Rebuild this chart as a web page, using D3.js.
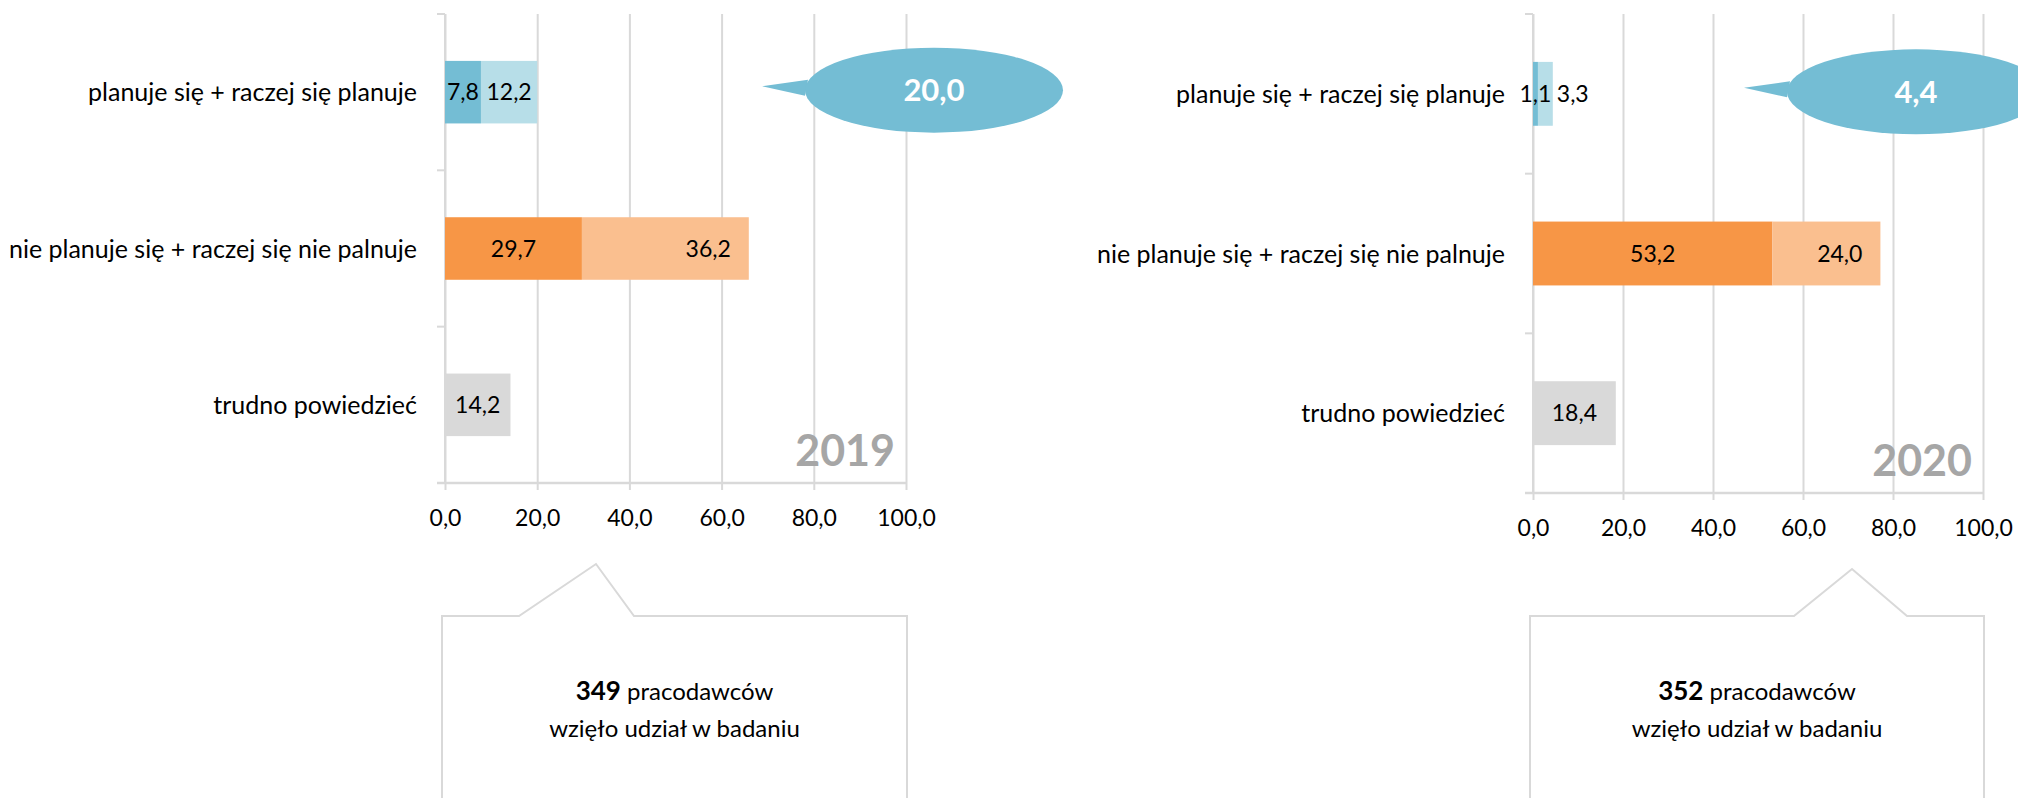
<!DOCTYPE html>
<html>
<head>
<meta charset="utf-8">
<script src="https://cdn.jsdelivr.net/npm/d3@7"></script>
<style>
  html, body { margin: 0; padding: 0; background: #fff; }
  svg { display: block; font-family: Lato, "Noto Sans", sans-serif; }
</style>
</head>
<body>
<svg id="chart" width="2018" height="798"></svg>
<script>
// dane z wykresu
const categories = ["planuje się + raczej się planuje", "nie planuje się + raczej się nie palnuje", "trudno powiedzieć"];
const years = ["2019", "2020"];
const xTicks = [0, 20, 40, 60, 80, 100];

// pierwsza część słupka (zdecydowanie) i druga (raczej)
const firstPart2019 = [7.8, 29.7, 14.2];
const secondPart2019 = [12.2, 36.2, null];
const firstPart2020 = [1.1, 53.2, 18.4];
const secondPart2020 = [3.3, 24.0, null];

const planned = [20.0, 4.4];          // suma "planuje" w dymku
const respondents = [349, 352];      // liczba pracodawców

const darkColors = ["#74bdd4", "#f79646", "#d9d9d9"];
const lightColors = ["#b7dee8", "#fabf8f", "#d9d9d9"];
const gridColor = "#d9d9d9";
const bubbleColor = "#74bdd4";

const fmt = v => d3.format(".1f")(v).replace(".", ",");
const fontSize = 23;     // wartości i oś X
const catFontSize = 25;  // nazwy kategorii

const svg = d3.select("#chart");

// układ obu paneli (pozycje w pikselach)
const panels = [
  { year: years[0], first: firstPart2019, second: secondPart2019, planned: planned[0], resp: respondents[0],
    x0: 445, x1: 906, top: 14, bottom: 483, bubbleDx: 489, pointer: [74, 151, 189], peakY: 564 },
  { year: years[1], first: firstPart2020, second: secondPart2020, planned: planned[1], resp: respondents[1],
    x0: 1533, x1: 1983, top: 14, bottom: 493, bubbleDx: 383, pointer: [261, 319, 374], peakY: 569 }
];

panels.forEach(drawPanel);

function drawPanel(p) {
  const x = d3.scaleLinear().domain([0, 100]).range([p.x0, p.x1]);
  const y = d3.scaleBand().domain(categories).range([p.top, p.bottom]).paddingInner(0.6).paddingOuter(0.3);
  const g = svg.append("g");

  // linie siatki
  g.append("g")
    .attr("transform", `translate(0,${p.bottom})`)
    .call(d3.axisBottom(x).tickValues(xTicks).tickSize(-(p.bottom - p.top)).tickFormat(""))
    .call(s => s.select(".domain").remove())
    .selectAll("line").attr("stroke", gridColor).attr("stroke-width", 2);

  // oś X z podpisami
  const xAxis = g.append("g")
    .attr("transform", `translate(0,${p.bottom})`)
    .call(d3.axisBottom(x).tickValues(xTicks).tickSize(7).tickPadding(20).tickFormat(fmt));
  xAxis.select(".domain").remove();
  xAxis.selectAll("line").attr("stroke", gridColor).attr("stroke-width", 2);
  xAxis.selectAll("text").attr("font-size", fontSize).attr("font-family", "Lato").attr("fill", "#000");

  g.append("line")
    .attr("x1", p.x0 - 8).attr("x2", p.x1 + 1)
    .attr("y1", p.bottom).attr("y2", p.bottom)
    .attr("stroke", gridColor).attr("stroke-width", 2.5);

  // oś Y z kreskami na granicach kategorii
  g.append("line")
    .attr("x1", p.x0).attr("x2", p.x0)
    .attr("y1", p.top).attr("y2", p.bottom)
    .attr("stroke", gridColor).attr("stroke-width", 2);
  const bounds = d3.range(categories.length + 1).map(i => p.top + i * y.step());
  g.selectAll(".ytick").data(bounds).join("line")
    .attr("class", "ytick")
    .attr("x1", p.x0 - 8).attr("x2", p.x0)
    .attr("y1", d => d).attr("y2", d => d)
    .attr("stroke", gridColor).attr("stroke-width", 2);

  // etykiety kategorii
  g.selectAll(".cat").data(categories).join("text")
    .attr("class", "cat")
    .attr("x", p.x0 - 28)
    .attr("y", d => y(d) + y.bandwidth() / 2)
    .attr("dy", "0.36em")
    .attr("text-anchor", "end")
    .attr("font-size", catFontSize)
    .text(d => d);

  // słupki
  const rows = categories.map((c, i) => ({ cat: c, i, a: p.first[i], b: p.second[i] }));

  g.selectAll(".barA").data(rows).join("rect")
    .attr("class", "barA")
    .attr("x", x(0))
    .attr("y", d => y(d.cat))
    .attr("width", d => x(d.a) - x(0))
    .attr("height", y.bandwidth())
    .attr("fill", d => darkColors[d.i]);

  const rowsB = rows.filter(d => d.b != null);
  g.selectAll(".barB").data(rowsB).join("rect")
    .attr("class", "barB")
    .attr("x", d => x(d.a))
    .attr("y", d => y(d.cat))
    .attr("width", d => x(d.a + d.b) - x(d.a))
    .attr("height", y.bandwidth())
    .attr("fill", d => lightColors[d.i]);

  // etykiety wartości
  g.selectAll(".lblA").data(rows).join("text")
    .attr("class", "lblA")
    .attr("x", d => (x(0) + x(d.a)) / 2)
    .attr("y", d => y(d.cat) + y.bandwidth() / 2)
    .attr("dy", "0.36em")
    .attr("text-anchor", "middle")
    .attr("font-size", fontSize)
    .text(d => fmt(d.a));

  const lblB = g.selectAll(".lblB").data(rowsB).join("text")
    .attr("class", "lblB")
    .attr("y", d => y(d.cat) + y.bandwidth() / 2)
    .attr("dy", "0.36em")
    .attr("font-size", fontSize)
    .text(d => fmt(d.b));
  lblB.each(function(d) {
    const w = this.getComputedTextLength();
    const s = x(d.a), e = x(d.a + d.b);
    const t = d3.select(this);
    if (e - s > w + 36) t.attr("x", e - 18).attr("text-anchor", "end");
    else if (e - s >= w) t.attr("x", (s + e) / 2).attr("text-anchor", "middle");
    else t.attr("x", e + 4).attr("text-anchor", "start");
  });

  // rok
  g.append("text")
    .attr("x", p.x1 - 11)
    .attr("y", p.bottom - 17)
    .attr("text-anchor", "end")
    .attr("font-size", 43)
    .attr("font-weight", "bold")
    .attr("fill", "#a6a6a6")
    .text(p.year);

  // dymek z sumą "planuje"
  const cy = y(categories[0]) + y.bandwidth() / 2 - 2;
  const cx = p.x0 + p.bubbleDx;
  g.append("path")
    .attr("d", `M${cx - 126},${cy - 10.5} L${cx - 172},${cy - 4} L${cx - 129},${cy + 5.5} Z`)
    .attr("fill", bubbleColor);
  g.append("ellipse")
    .attr("cx", cx).attr("cy", cy)
    .attr("rx", 129).attr("ry", 42.5)
    .attr("fill", bubbleColor);
  g.append("text")
    .attr("x", cx).attr("y", cy)
    .attr("dy", "0.36em")
    .attr("text-anchor", "middle")
    .attr("font-size", 31)
    .attr("font-weight", "bold")
    .attr("fill", "#fff")
    .text(fmt(p.planned));

  // ramka z liczbą pracodawców
  const boxTop = 616;
  const bx0 = p.x0 - 3, bx1 = p.x1 + 1;
  g.append("path")
    .attr("d", `M${bx0},800 V${boxTop} H${p.x0 + p.pointer[0]} L${p.x0 + p.pointer[1]},${p.peakY} L${p.x0 + p.pointer[2]},${boxTop} H${bx1} V800`)
    .attr("fill", "none")
    .attr("stroke", gridColor)
    .attr("stroke-width", 2);

  const bcx = (bx0 + bx1) / 2;
  const t1 = g.append("text")
    .attr("x", bcx).attr("y", 700)
    .attr("text-anchor", "middle")
    .attr("font-size", 24);
  t1.append("tspan").attr("font-weight", "bold").attr("font-size", 26).text(p.resp);
  t1.append("tspan").text(" pracodawców");
  g.append("text")
    .attr("x", bcx).attr("y", 737)
    .attr("text-anchor", "middle")
    .attr("font-size", 24)
    .text("wzięło udział w badaniu");
}
</script>
</body>
</html>
